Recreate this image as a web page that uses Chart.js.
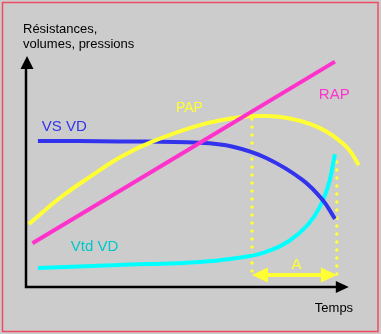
<!DOCTYPE html>
<html>
<head>
<meta charset="utf-8">
<script src="https://cdn.jsdelivr.net/npm/chart.js@4"></script>
<style>
  body { margin: 0; background: #cccccc; }
  #graph { display: block; }
</style>
</head>
<body>
<canvas id="graph" width="381" height="334"></canvas>
<script>
// curves (time on x, arbitrary level on y, both 0..100 along the axes)
const rapX = [2, 96];
const rapY = [19, 98];

const papX = [0.9, 10.6, 20.5, 29.8, 39.4, 54, 67.4, 74.8, 82, 88.2, 93.5, 98.4, 100.9, 103.4];
const papY = [27.4, 38.8, 48.5, 56.8, 63.3, 70.4, 74, 74.3, 73.3, 70.9, 67.5, 62.5, 58.7, 53];

const vsX = [3.7, 29.2, 54, 64.3, 74.8, 86, 92.2, 96];
const vsY = [63.5, 63.3, 62.7, 61, 56, 46.5, 37.8, 29.6];

const vtdX = [3.7, 29, 54, 63.4, 73.6, 84.2, 91.3, 94.4, 96];
const vtdY = [8.3, 9.6, 10.9, 12.2, 14.8, 22.6, 34.8, 46.5, 57.8];

// interval A: start and end times, dotted markers up to these levels
const intervalX = [70.2, 96.6];
const intervalTop = [73, 54.3];
const intervalArrowY = 5.2;

// the time axis arrow stops at this value, the yellow curve runs a bit past it
const axisEnd = 100;

const yTitle = ['Résistances,', 'volumes, pressions'];
const xTitle = 'Temps';

const YELLOW = '#ffff33';
const MAGENTA = '#ff33cc';
const BLUE = '#3333ee';
const CYAN = '#00ffff';

function pts(xs, ys) {
    return xs.map(function (x, i) { return { x: x, y: ys[i] }; });
}

function curve(label, xs, ys, color, mode) {
    return {
        label: label,
        data: pts(xs, ys),
        borderColor: color,
        borderWidth: 4,
        pointRadius: 0,
        tension: 0.4,
        cubicInterpolationMode: mode || 'default',
        borderCapStyle: 'butt',
        fill: false,
        clip: false
    };
}

function dotted(x, top) {
    return {
        label: 'dots',
        data: [{ x: x, y: top }, { x: x, y: intervalArrowY }],
        borderColor: YELLOW,
        borderWidth: 3.5,
        borderDash: [0, 8],
        borderCapStyle: 'round',
        pointRadius: 0,
        clip: false
    };
}

// text labels placed in data units (left edge, baseline)
const curveLabels = [
    { text: 'PAP', x: 46.6, y: 76.2, color: YELLOW, size: 14 },
    { text: 'RAP', x: 91, y: 81.7, color: MAGENTA, size: 15 },
    { text: 'VS VD', x: 4.9, y: 67.8, color: BLUE, size: 15 },
    { text: 'Vtd VD', x: 13.9, y: 15.8, color: '#00c8c8', size: 15 },
    { text: 'A', x: 82.5, y: 7.8, color: YELLOW, size: 15 }
];

function arrowHead(ctx, tipX, tipY, dir, len, half) {
    // dir: unit vector pointing toward the tip
    const bx = tipX - dir[0] * len, by = tipY - dir[1] * len;
    ctx.beginPath();
    ctx.moveTo(tipX, tipY);
    ctx.lineTo(bx - dir[1] * half, by + dir[0] * half);
    ctx.lineTo(bx + dir[1] * half, by - dir[0] * half);
    ctx.closePath();
    ctx.fill();
}

const backdrop = {
    id: 'backdrop',
    beforeDraw: function (chart) {
        const ctx = chart.ctx;
        ctx.save();
        ctx.fillStyle = '#cccccc';
        ctx.fillRect(0, 0, chart.width, chart.height);
        ctx.strokeStyle = '#ef4c63';
        ctx.lineWidth = 1.5;
        ctx.strokeRect(2.5, 2.5, chart.width - 5.5, chart.height - 5);

        // axes with arrows
        const a = chart.chartArea;
        const right = chart.scales.x.getPixelForValue(axisEnd);
        ctx.strokeStyle = '#000';
        ctx.fillStyle = '#000';
        ctx.lineWidth = 2.5;
        ctx.beginPath();
        ctx.moveTo(a.left, a.top + 10);
        ctx.lineTo(a.left, a.bottom);
        ctx.lineTo(right - 10, a.bottom);
        ctx.stroke();
        arrowHead(ctx, a.left + 1, a.top - 1, [0, -1], 13, 6.5);
        arrowHead(ctx, right + 1, a.bottom, [1, 0], 13, 6);

        ctx.font = '13px "Liberation Sans", Arial, sans-serif';
        ctx.textBaseline = 'alphabetic';
        ctx.textAlign = 'left';
        ctx.fillText(yTitle[0], a.left - 3, a.top - 24);
        ctx.fillText(yTitle[1], a.left - 3, a.top - 9);
        ctx.fillText(xTitle, right - 33, a.bottom + 25);
        ctx.restore();
    },
    afterDatasetsDraw: function (chart) {
        const ctx = chart.ctx;
        const xs = chart.scales.x, ys = chart.scales.y;
        ctx.save();

        // double arrow for interval A
        const y = ys.getPixelForValue(intervalArrowY);
        const x0 = xs.getPixelForValue(intervalX[0]);
        const x1 = xs.getPixelForValue(intervalX[1]);
        ctx.strokeStyle = YELLOW;
        ctx.fillStyle = YELLOW;
        ctx.lineWidth = 4;
        ctx.beginPath();
        ctx.moveTo(x0 + 10, y);
        ctx.lineTo(x1 - 10, y);
        ctx.stroke();
        arrowHead(ctx, x0, y, [-1, 0], 16, 7.5);
        arrowHead(ctx, x1, y, [1, 0], 16, 7.5);

        curveLabels.forEach(function (l) {
            ctx.font = l.size + 'px "Liberation Sans", Arial, sans-serif';
            ctx.fillStyle = l.color;
            ctx.textAlign = 'left';
            ctx.textBaseline = 'alphabetic';
            ctx.fillText(l.text, xs.getPixelForValue(l.x), ys.getPixelForValue(l.y));
        });
        ctx.restore();
    }
};

new Chart(document.getElementById('graph').getContext('2d'), {
    type: 'line',
    data: {
        datasets: [
            curve('RAP', rapX, rapY, MAGENTA),
            curve('PAP', papX, papY, YELLOW),
            curve('VS VD', vsX, vsY, BLUE),
            curve('Vtd VD', vtdX, vtdY, CYAN, 'monotone'),
            dotted(intervalX[0], intervalTop[0]),
            dotted(intervalX[1], intervalTop[1])
        ]
    },
    options: {
        responsive: false,
        animation: false,
        layout: { padding: { left: 26, right: 1, top: 57, bottom: 47 } },
        scales: {
            x: { type: 'linear', min: 0, max: 110, display: false },
            y: { type: 'linear', min: 0, max: 100, display: false }
        },
        plugins: {
            legend: { display: false },
            tooltip: { enabled: false }
        }
    },
    plugins: [backdrop]
});
</script>
</body>
</html>
